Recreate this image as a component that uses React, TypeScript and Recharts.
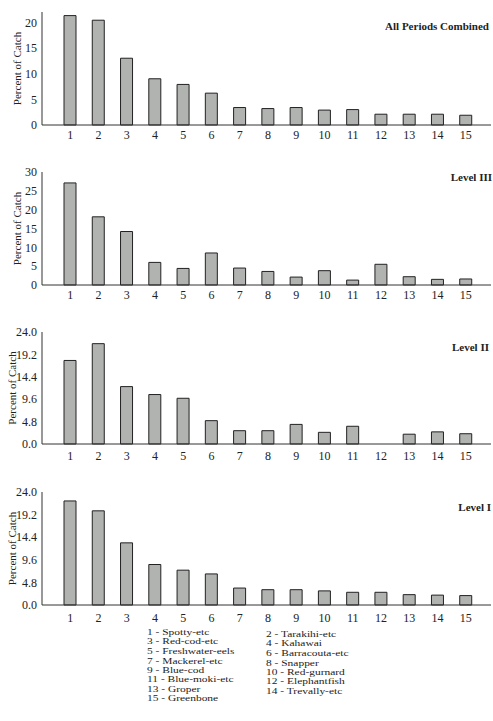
import React from 'react';
import { BarChart, Bar, XAxis, YAxis } from 'recharts';

const speciesIds = [1, 2, 3, 4, 5, 6, 7, 8, 9, 10, 11, 12, 13, 14, 15];

const allPeriodsCombined = [21.3, 20.4, 13.0, 9.0, 7.9, 6.2, 3.4, 3.2, 3.4, 2.9, 3.0, 2.1, 2.1, 2.1, 1.9];
const levelIII = [27.1, 18.1, 14.2, 6.0, 4.4, 8.5, 4.5, 3.6, 2.1, 3.8, 1.3, 5.5, 2.2, 1.5, 1.6];
const levelII = [17.9, 21.5, 12.3, 10.6, 9.8, 5.0, 2.85, 2.85, 4.2, 2.5, 3.8, 0, 2.1, 2.6, 2.2];
const levelI = [22.1, 20.0, 13.2, 8.6, 7.4, 6.6, 3.6, 3.25, 3.25, 3.0, 2.7, 2.7, 2.2, 2.1, 2.0];

const ticksAll = [0, 5, 10, 15, 20];
const ticksIII = [0, 5, 10, 15, 20, 25, 30];
const ticksLevel = [0, 4.8, 9.6, 14.4, 19.2, 24.0];

const speciesNames = [
  'Spotty-etc', 'Tarakihi-etc', 'Red-cod-etc', 'Kahawai', 'Freshwater-eels',
  'Barracouta-etc', 'Mackerel-etc', 'Snapper', 'Blue-cod', 'Red-gurnard',
  'Blue-moki-etc', 'Elephantfish', 'Groper', 'Trevally-etc', 'Greenbone',
];

const FONT = '"Liberation Serif", "Times New Roman", Times, serif';
const INK = '#222';

type PanelProps = {
  values: number[];
  title: string;
  yTicks: number[];
  yMax: number;
  decimals: number;
  top: number;
  height: number;
  tickMargin: number;
  titleTop: number;
  titleRight: number;
  labelDx: number;
};

function Panel({ values, title, yTicks, yMax, decimals, top, height, tickMargin, titleTop, titleRight, labelDx }: PanelProps) {
  const data = speciesIds.map((id, i) => ({ id: String(id), value: values[i] }));
  return (
    <div style={{ position: 'absolute', left: 0, top, width: 493, height }}>
      <BarChart width={493} height={height} data={data} margin={{ top: 12, right: 2, bottom: 5, left: 0 }}>
        <XAxis
          dataKey="id"
          height={15}
          interval={0}
          tickLine={false}
          tickSize={0}
          tickMargin={tickMargin}
          padding={{ left: 14, right: 11 }}
          axisLine={{ stroke: '#333' }}
          tick={{ fill: INK, fontSize: 12, fontFamily: FONT }}
        />
        <XAxis
          xAxisId="top"
          orientation="top"
          dataKey="id"
          height={0}
          tick={false}
          tickLine={false}
          axisLine={{ stroke: '#333' }}
        />
        <YAxis
          width={42}
          domain={[0, yMax]}
          ticks={yTicks}
          interval={0}
          tickLine={false}
          tickSize={0}
          tickMargin={5}
          axisLine={{ stroke: '#333' }}
          tick={{ fill: INK, fontSize: 12, fontFamily: FONT }}
          tickFormatter={(v: number) => v.toFixed(decimals)}
          label={{
            value: 'Percent of Catch',
            angle: -90,
            position: 'insideLeft',
            dx: labelDx,
            style: { textAnchor: 'middle', fontFamily: FONT, fontSize: 11, fill: INK },
          }}
        />
        <YAxis
          yAxisId="right"
          orientation="right"
          width={0}
          tick={false}
          tickLine={false}
          axisLine={{ stroke: '#333' }}
        />
        <Bar dataKey="value" fill="#b0b3af" stroke="#222" strokeWidth={1} barSize={12} isAnimationActive={false} />
      </BarChart>
      <div
        style={{
          position: 'absolute',
          right: titleRight,
          top: titleTop,
          fontFamily: FONT,
          fontWeight: 'bold',
          fontSize: 11,
          lineHeight: '13px',
          color: INK,
          whiteSpace: 'nowrap',
        }}
      >
        {title}
      </div>
    </div>
  );
}

const legendColStyle: React.CSSProperties = {
  position: 'absolute',
  fontFamily: FONT,
  fontSize: 11,
  lineHeight: '12.18px',
  color: INK,
  whiteSpace: 'nowrap',
  transform: 'scale(1.04, 0.78)',
  transformOrigin: '0 0',
};

export default function App() {
  const leftCol = speciesNames.map((n, i) => ({ n, i })).filter((d) => d.i % 2 === 0);
  const rightCol = speciesNames.map((n, i) => ({ n, i })).filter((d) => d.i % 2 === 1);
  return (
    <div style={{ position: 'absolute', left: 0, top: 0, width: 493, height: 721, background: '#fff', overflow: 'hidden' }}>
      <Panel values={allPeriodsCombined} title="All Periods Combined" yTicks={ticksAll} yMax={22} decimals={0}
        top={0} height={145} tickMargin={5} titleTop={20} titleRight={4} labelDx={12} />
      <Panel values={levelIII} title="Level III" yTicks={ticksIII} yMax={30} decimals={0}
        top={160} height={145} tickMargin={5} titleTop={11} titleRight={1} labelDx={12} />
      <Panel values={levelII} title="Level II" yTicks={ticksLevel} yMax={24} decimals={1}
        top={320} height={144} tickMargin={7} titleTop={21} titleRight={4} labelDx={7} />
      <Panel values={levelI} title="Level I" yTicks={ticksLevel} yMax={24} decimals={1}
        top={480} height={145} tickMargin={8} titleTop={21} titleRight={2} labelDx={7} />
      <div style={{ ...legendColStyle, left: 147, top: 627 }}>
        {leftCol.map((d) => (
          <div key={d.i}>{`${speciesIds[d.i]} - ${d.n}`}</div>
        ))}
      </div>
      <div style={{ ...legendColStyle, left: 266, top: 629 }}>
        {rightCol.map((d) => (
          <div key={d.i}>{`${speciesIds[d.i]} - ${d.n}`}</div>
        ))}
      </div>
    </div>
  );
}
